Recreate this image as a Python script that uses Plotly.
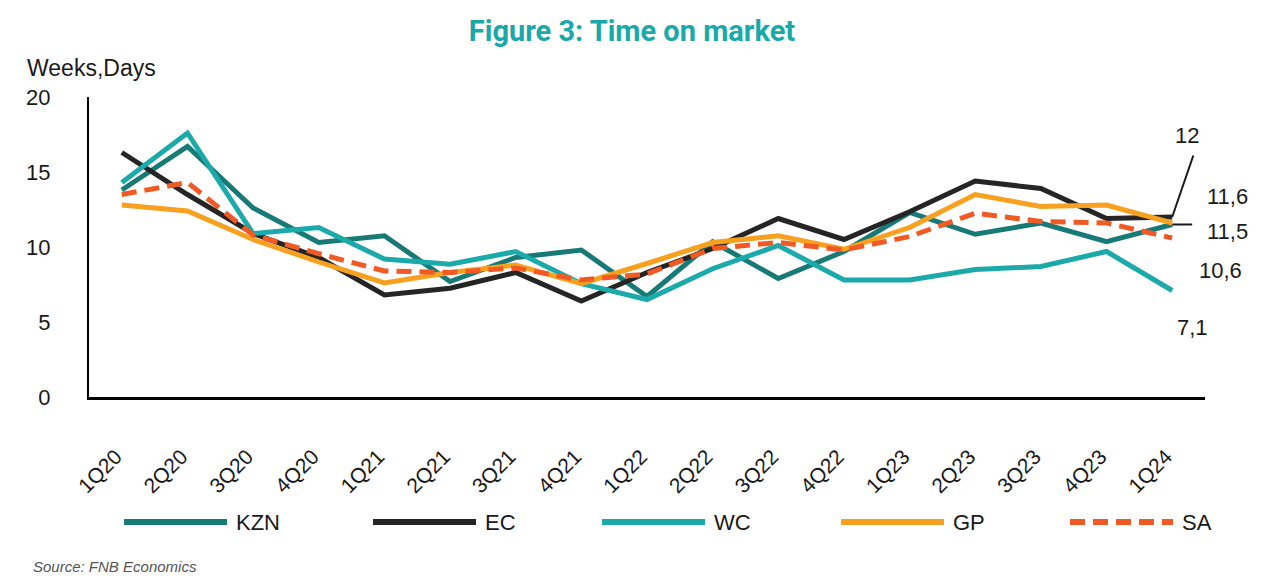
import plotly.graph_objects as go

# Quarters on the x axis
quarters = ["1Q20", "2Q20", "3Q20", "4Q20", "1Q21", "2Q21", "3Q21", "4Q21", "1Q22",
            "2Q22", "3Q22", "4Q22", "1Q23", "2Q23", "3Q23", "4Q23", "1Q24"]

# Time on market per province (weeks)
kzn = [13.8, 16.7, 12.6, 10.3, 10.75, 7.7, 9.3, 9.8, 6.7, 10.35, 7.9, 9.7, 12.3, 10.85, 11.6, 10.35, 11.5]
ec = [16.3, 13.5, 10.9, 9.3, 6.8, 7.25, 8.3, 6.4, 8.3, 9.9, 11.9, 10.5, 12.35, 14.4, 13.9, 11.9, 12.0]
wc = [14.3, 17.6, 10.9, 11.3, 9.2, 8.85, 9.7, 7.55, 6.5, 8.55, 10.1, 7.8, 7.8, 8.5, 8.7, 9.7, 7.1]
gp = [12.8, 12.4, 10.5, 9.0, 7.6, 8.3, 8.8, 7.55, 8.9, 10.3, 10.75, 9.85, 11.3, 13.5, 12.7, 12.8, 11.6]
sa = [13.5, 14.3, 10.8, 9.55, 8.4, 8.3, 8.6, 7.8, 8.2, 9.9, 10.3, 9.8, 10.7, 12.25, 11.7, 11.6, 10.6]

names = ["KZN", "EC", "WC", "GP", "SA"]
series = [kzn, ec, wc, gp, sa]
colors = ["#177a76", "#252525", "#1ba9a9", "#f8a020", "#f15a24"]
dashes = ["solid", "solid", "solid", "solid", "15px,8px"]

FONT = "Liberation Sans, Arial, sans-serif"

fig = go.Figure()
for name, vals, col, dash in zip(names, series, colors, dashes):
    fig.add_trace(go.Scatter(x=quarters, y=vals, name=name, mode="lines",
                             line=dict(color=col, width=5, dash=dash),
                             showlegend=False))

# the page body has an 8px margin, so work in page pixels and shift back
OFF = 8
FIG_W, FIG_H = 1280 - OFF, 584 - OFF
L, T = 89 - OFF, 97 - OFF
W, H = 1116, 300
R, B = FIG_W - L - W, FIG_H - T - H


def px_x(px):
    return (px - OFF - L) / W


def px_y(py):
    return (T + H - (py - OFF)) / H


# custom legend: long line samples like the original
leg_x = [124, 373, 602, 841, 1070]
leg_y = 522
for x0, name, col, dash in zip(leg_x, names, colors, dashes):
    fig.add_shape(type="line", xref="paper", yref="paper",
                  x0=px_x(x0), x1=px_x(x0 + 103), y0=px_y(leg_y), y1=px_y(leg_y),
                  line=dict(color=col, width=6, dash=dash))
    fig.add_annotation(text=name, xref="paper", yref="paper",
                       x=px_x(x0 + 110), y=px_y(leg_y), xanchor="left", yanchor="middle",
                       showarrow=False, font=dict(size=22, color="#1a1a1a"))

# end-of-line value labels (leader lines drawn as separate blank annotations)
last = quarters[-1]
lab_font = dict(size=22, color="#1a1a1a")
fig.add_annotation(x=last, y=ec[-1], text=" ", showarrow=True, arrowhead=0, standoff=0,
                   arrowwidth=2, arrowcolor="#1a1a1a", ax=22, ay=-64, font=dict(size=2))
fig.add_annotation(x=last, y=ec[-1], text="12", showarrow=False,
                   xshift=15, yshift=82, font=lab_font)
fig.add_annotation(x=last, y=kzn[-1], text=" ", showarrow=True, arrowhead=0, standoff=0,
                   arrowwidth=2, arrowcolor="#1a1a1a", ax=22, ay=0, font=dict(size=2))
fig.add_annotation(x=last, y=kzn[-1], text="11,5", showarrow=False,
                   xshift=55, yshift=-7, font=lab_font)
fig.add_annotation(x=last, y=gp[-1], text="11,6", showarrow=False,
                   xshift=55, yshift=27, font=lab_font)
fig.add_annotation(x=last, y=sa[-1], text="10,6", showarrow=False,
                   xshift=48, yshift=-32, font=lab_font)
fig.add_annotation(x=last, y=wc[-1], text="7,1", showarrow=False,
                   xshift=20, yshift=-37, font=lab_font)

# y axis caption and source note
fig.add_annotation(text="Weeks,Days", xref="paper", yref="paper",
                   x=px_x(25), y=px_y(68), xanchor="left", yanchor="middle",
                   showarrow=False, font=dict(size=23, color="#1a1a1a"))
fig.add_annotation(text="<i>Source: FNB Economics</i>", xref="paper", yref="paper",
                   x=px_x(31), y=px_y(566), xanchor="left", yanchor="middle",
                   showarrow=False, font=dict(size=15, color="#555555"))

fig.update_layout(
    width=FIG_W, height=FIG_H,
    margin=dict(l=L, r=R, t=T, b=B),
    paper_bgcolor="white", plot_bgcolor="white",
    font=dict(family=FONT, color="#1a1a1a"),
    title=dict(text="<b>Figure 3: Time on market</b>", x=(632 - OFF) / FIG_W, xanchor="center",
               y=1 - (31 - OFF) / FIG_H, yanchor="middle",
               font=dict(family="Roboto, sans-serif", size=29, color="#1aa9a8")),
)
fig.update_xaxes(range=[-0.5, 16.5], showgrid=False, showline=True, linecolor="black",
                 linewidth=3, tickangle=-45, tickfont=dict(size=21), ticks="",
                 ticklabelstandoff=36, ticklabelshift=-6, automargin=False)
fig.update_yaxes(range=[0, 20], dtick=5, showgrid=False, showline=True, linecolor="black",
                 linewidth=2, zeroline=False, tickfont=dict(size=22), ticks="",
                 ticklabelstandoff=32, automargin=False)

fig.write_html("out.html")
